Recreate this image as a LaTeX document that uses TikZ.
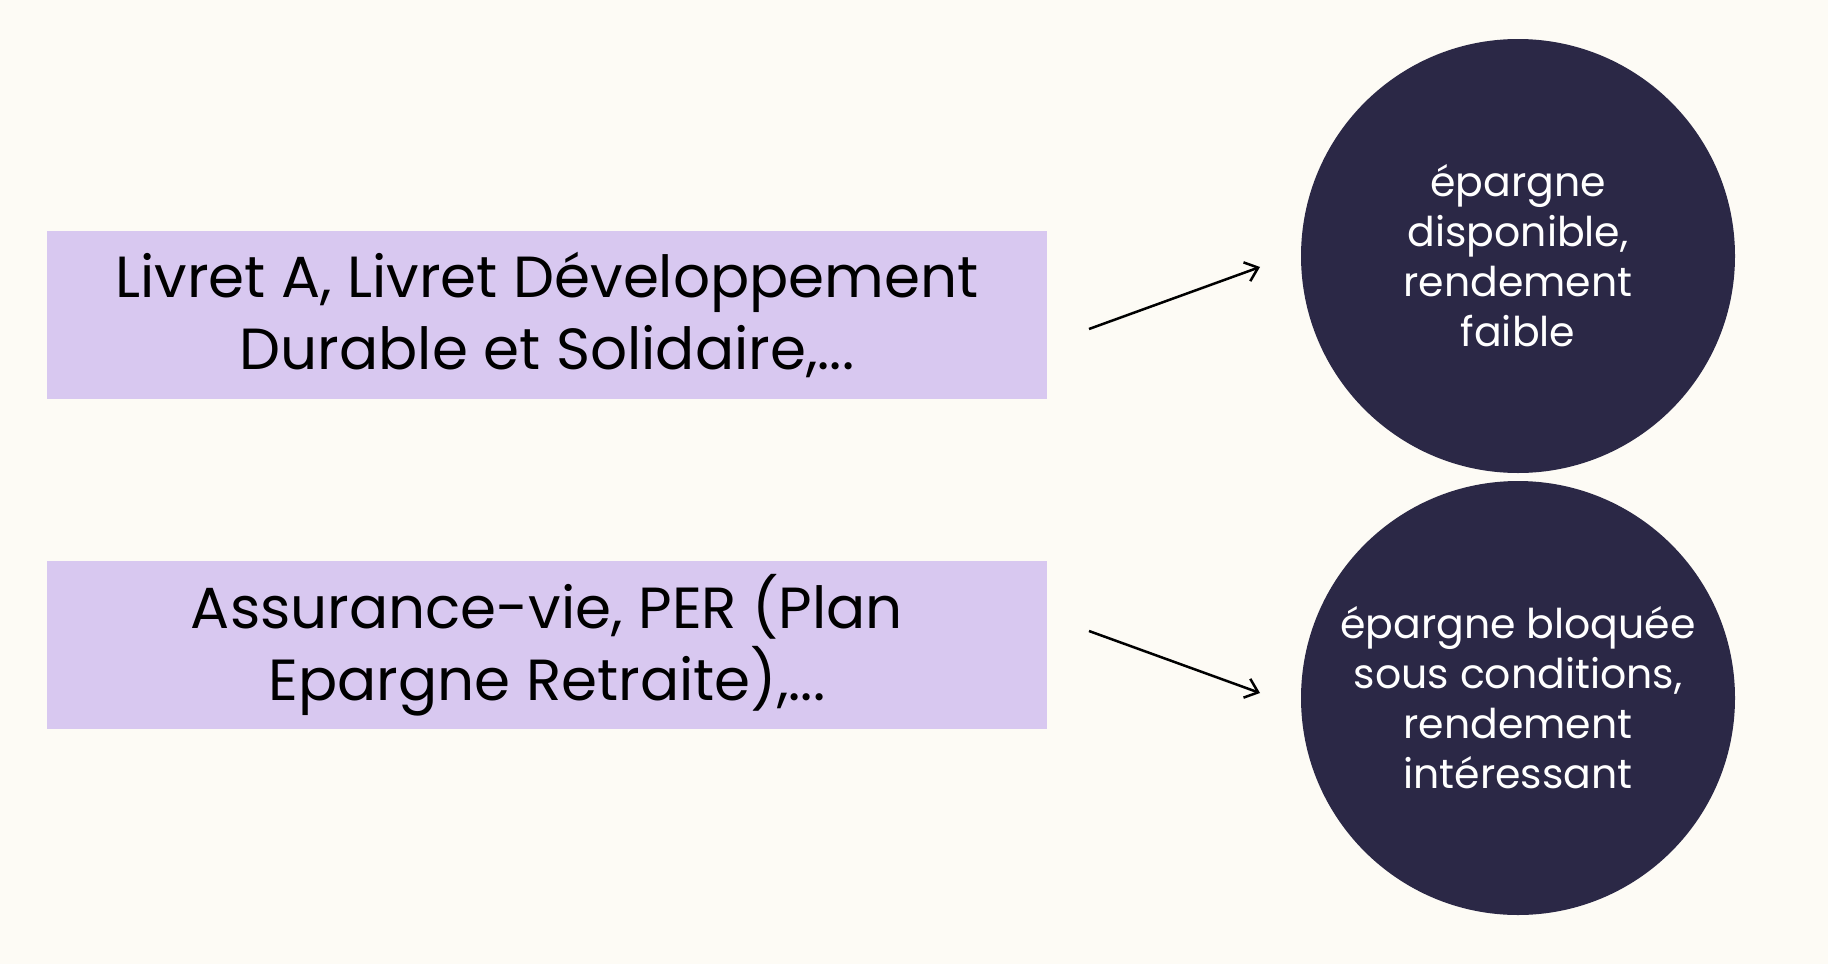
\documentclass[tikz,border=0pt]{standalone}
\usepackage{fontspec}
\setmainfont{Poppins}
\usetikzlibrary{arrows.meta}
\definecolor{bg}{RGB}{253,251,245}
\definecolor{lav}{RGB}{216,200,240}
\definecolor{navy}{RGB}{43,40,70}
\begin{document}
\begin{tikzpicture}[x=1pt,y=-1pt,
  box/.style={fill=lav,draw=none,minimum width=1000pt,minimum height=168pt,align=center,inner sep=0pt,
    font=\fontsize{58}{72}\selectfont,text=black},
  disc/.style={circle,fill=navy,draw=none,minimum size=434pt,inner sep=0pt,align=center,
    font=\fontsize{41}{50}\selectfont,text=white},
  arr/.style={line width=2.5pt,-{Straight Barb[length=12pt,width=20pt,line width=2.5pt]}}]
\fill[bg] (0,0) rectangle (1828,964);
\useasboundingbox (0,0) rectangle (1828,964);
\node[box] (b1) at (547,315) {Livret A, Livret Développement\\Durable et Solidaire,...};
\node[box] (b2) at (547,645) {Assurance-vie, PER (Plan\\Epargne Retraite),...};
\node[disc] (c1) at (1518,256) {épargne\\disponible,\\rendement\\faible};
\node[disc] (c2) at (1518,698) {épargne bloquée\\sous conditions,\\rendement\\intéressant};
\coordinate (a1s) at (1089,329);
\coordinate (a1e) at (1260,267);
\coordinate (a2s) at (1089,631);
\coordinate (a2e) at (1260,693);
\draw[arr] (a1s) -- (a1e);
\draw[arr] (a2s) -- (a2e);
\end{tikzpicture}
\end{document}
